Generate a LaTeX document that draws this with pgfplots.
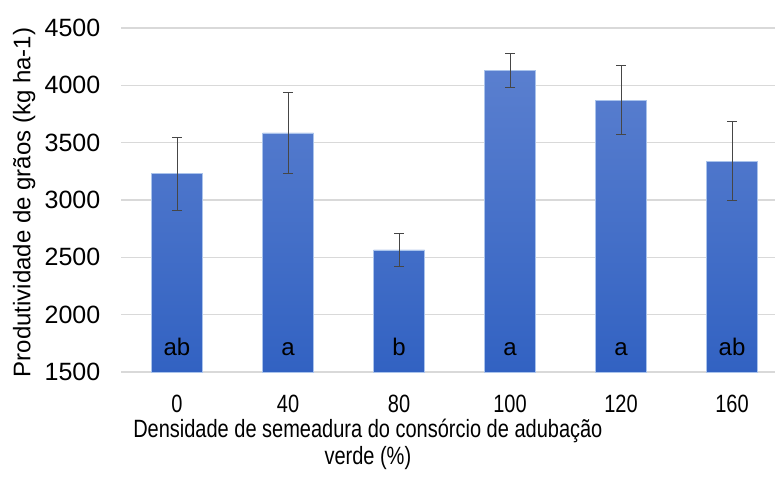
\documentclass[border=0pt]{standalone}
\usepackage{fontspec}
\setmainfont{Liberation Sans}
\newfontfamily\condfont{Liberation Sans}[FakeStretch=0.8]
\usepackage{pgfplots}
\pgfplotsset{compat=1.18}
\definecolor{gridc}{RGB}{217,217,217}
\definecolor{bartop}{RGB}{90,127,207}
\definecolor{barbot}{RGB}{50,98,194}
\definecolor{baredge}{RGB}{170,195,235}
\definecolor{errc}{RGB}{70,70,70}
\begin{document}
\begin{tikzpicture}
\begin{axis}[
 at={(0,0)}, anchor=south west,
 scale only axis, width=653.5pt, height=344pt,
 xmin=-0.5, xmax=5.387, ymin=1500, ymax=4500,
 ytick={1500,2000,...,4500},
 xtick={0,...,5}, xticklabels={0,40,80,100,120,160},
 major tick length=0pt,
 axis line style={draw=none},
 ymajorgrids, grid style={gridc, line width=1.2pt},
 /pgf/number format/assume math mode=true,
 /pgf/number format/1000 sep={},
 yticklabel style={font=\fontsize{25}{25}\selectfont, inner sep=0pt, anchor=east, xshift=-21pt},
 xticklabel style={font=\condfont\fontsize{25}{25}\selectfont, inner sep=0pt, anchor=north, yshift=-23pt},
 xlabel={Densidade de semeadura do consórcio de adubação\\verde (\%)},
 xlabel style={font=\condfont\fontsize{25}{26.5}\selectfont, align=center, inner sep=0pt, at={(axis description cs:0.377,-0.137)}, anchor=north},
 ylabel={Produtividade de grãos (kg ha-1)},
 ylabel style={font=\fontsize{24}{24}\selectfont, inner sep=0pt, at={(axis description cs:-0.149,0.493)}, anchor=center},
]
\addplot[ybar, bar width=51pt, bar shift=0pt, draw=baredge, line width=0.6pt,
  top color=bartop, bottom color=barbot,
  error bars/.cd, y dir=both, y explicit,
  error bar style={errc, line width=0.8pt},
  error mark options={errc, line width=0.8pt, mark size=5pt, rotate=90}]
coordinates {
 (0,3230) +- (0,320)
 (1,3585) +- (0,355)
 (2,2565) +- (0,140)
 (3,4130) +- (0,150)
 (4,3870) +- (0,300)
 (5,3340) +- (0,345)
};
\addplot[draw=none, mark=none, nodes near coords, point meta=explicit symbolic,
  every node near coord/.append style={font=\fontsize{24}{24}\selectfont, anchor=base, inner sep=0pt, text=black}]
coordinates {
 (0,1640) [ab]
 (1,1640) [a]
 (2,1640) [b]
 (3,1640) [a]
 (4,1640) [a]
 (5,1640) [ab]
};
\end{axis}
\pgfresetboundingbox
\path[use as bounding box] (-121.5pt,-107pt) rectangle (653.5pt,372pt);
\end{tikzpicture}
\end{document}
